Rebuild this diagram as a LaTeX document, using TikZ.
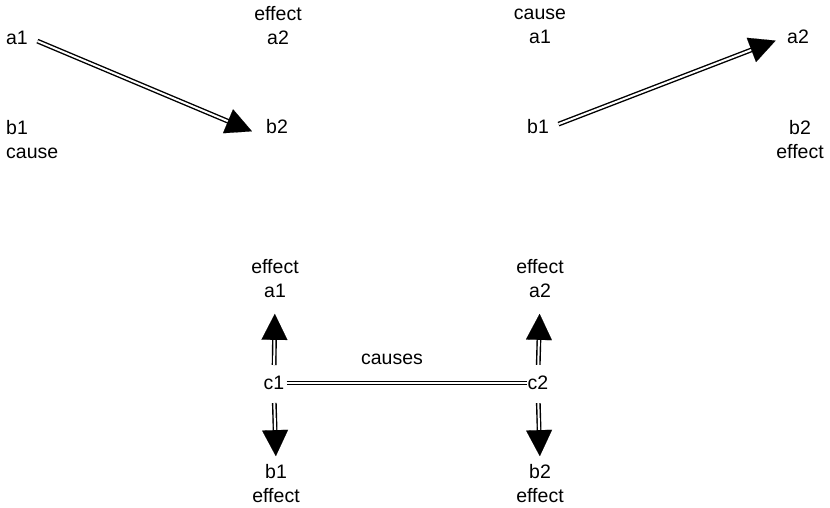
\documentclass[tikz,border=0pt]{standalone}
\usepackage{fontspec}
\setmainfont{Liberation Sans}
\usetikzlibrary{arrows.meta}

\begin{document}
\begin{tikzpicture}[
    x=1pt, y=-1pt,
    every node/.style={font=\fontsize{19.5}{24}\selectfont, inner sep=2pt, align=center},
    dbl/.style={double, double distance=2pt, line width=1.4pt},
    head/.style={draw=white, line width=0.1pt, -{Triangle[length=26pt, width=26pt, color=black]}}
]
\useasboundingbox (0,0) rectangle (830,507);

% a1 causes b2
\node (la1) at (17,38) {a1};
\node (la2) at (278,26) {effect\\a2};
\node[anchor=west, align=left] (lb1) at (4,139.5) {b1\\cause};
\node (lb2) at (277,127) {b2};

\draw[dbl, shorten <=8pt, shorten >=26pt] (la1.east) -- (lb2.south west);
\draw[head, shorten <=8pt, shorten >=13pt] (la1.east) -- (lb2.south west);

% b1 causes a2
\node (ra1) at (540,26) {cause\\a1};
\node (ra2) at (798,37) {a2};
\node (rb1) at (538,127) {b1};
\node (rb2) at (800,139.5) {b2\\effect};

\draw[dbl, shorten <=8pt, shorten >=22pt] (rb1.east) -- (ra2.west);
\draw[head, shorten <=8pt, shorten >=10pt] (rb1.east) -- (ra2.west);

% common cause
\node (ba1) at (275,278.5) {effect\\a1};
\node (c1) at (274,383) {c1};
\node (bb1) at (276,483.5) {b1\\effect};
\node (ba2) at (540,278.5) {effect\\a2};
\node (c2) at (538,383) {c2};
\node (bb2) at (540,483.5) {b2\\effect};
\node (causes) at (392,359) {causes};

\draw[dbl, shorten <=0pt, shorten >=-1pt] (c1.east) -- (c2.west);

\draw[dbl, shorten <=9pt, shorten >=24pt] (c1.north) -- (ba1.south);
\draw[head, shorten <=9pt, shorten >=14pt] (c1.north) -- (ba1.south);
\draw[dbl, shorten <=11pt, shorten >=16pt] (c1.south) -- (bb1.north);
\draw[head, shorten <=11pt, shorten >=6pt] (c1.south) -- (bb1.north);

\draw[dbl, shorten <=9pt, shorten >=24pt] (c2.north) -- (ba2.south);
\draw[head, shorten <=9pt, shorten >=14pt] (c2.north) -- (ba2.south);
\draw[dbl, shorten <=11pt, shorten >=16pt] (c2.south) -- (bb2.north);
\draw[head, shorten <=11pt, shorten >=6pt] (c2.south) -- (bb2.north);

\end{tikzpicture}
\end{document}
